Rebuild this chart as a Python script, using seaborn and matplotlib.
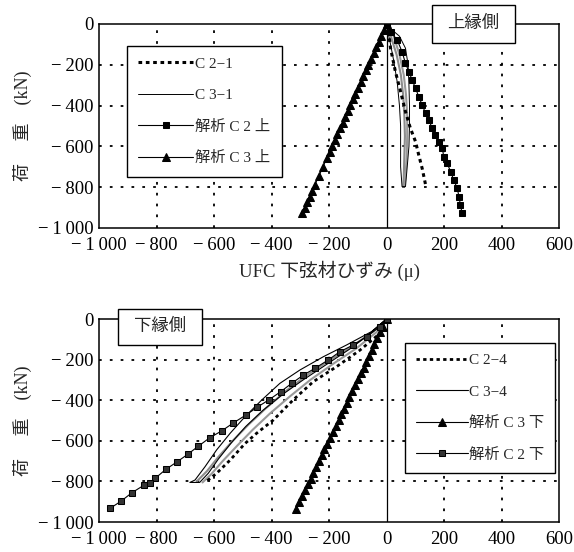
import matplotlib
matplotlib.use("Agg")
import matplotlib.pyplot as plt
import seaborn as sns
import pandas as pd
from matplotlib.patches import Rectangle

# ---------------- data (strain in μ, load in kN) ----------------
# Top panel (上縁側)
top_c21_x = [0, 8, 14, 31, 49, 66, 83, 101, 112, 124, 136]
top_c21_y = [0, -50, -119, -234, -332, -430, -511, -577, -642, -708, -789]

top_c31_x = [0, 20, 45, 66, 75, 78, 80, 80, 78, 72, 66, 54, 49, 49, 49, 45, 37, 25, 14, 5, 0]
top_c31_y = [0, -30, -60, -119, -200, -300, -400, -500, -600, -700, -797, -797, -700, -600, -500, -400, -283, -180, -100, -40, 0]

top_c31_cyc1_x = [0, 15, 35, 50, 58, 62, 64, 62, 60, 58]
top_c31_cyc1_y = [0, -60, -150, -250, -350, -450, -550, -650, -750, -797]
top_c31_cyc2_x = [0, 25, 45, 60, 68, 72, 72, 70, 66, 62]
top_c31_cyc2_y = [0, -60, -150, -250, -350, -450, -550, -650, -750, -797]

top_ana_c2_x = [0, 14, 37, 54, 66, 78, 89, 101, 112, 124, 136, 147, 159, 170, 182, 194, 199, 211, 223, 234, 246, 252, 257, 263]
top_ana_c2_y = [0, -38, -78, -136, -193, -234, -275, -315, -356, -397, -438, -471, -511, -544, -577, -609, -650, -683, -724, -765, -806, -846, -887, -928]

top_ana_c3_x = [0, -9, -18, -27, -36, -45, -54, -63, -72, -81, -90, -99, -108, -117, -126, -135,
                -144, -153, -162, -171, -180, -189, -198, -207, -221, -235, -250, -258, -267, -276, -285, -293]
top_ana_c3_y = [0, -30, -58, -86, -115, -143, -172, -200, -228, -257, -285, -314, -342, -370, -399, -427,
                -456, -484, -512, -541, -569, -598, -626, -655, -700, -745, -790, -818, -846, -874, -902, -928]

# Bottom panel (下縁側)
bot_c24_x = [0, -23, -92, -174, -255, -325, -394, -452, -492, -544, -591, -631]
bot_c24_y = [0, -71, -153, -235, -309, -399, -498, -563, -613, -695, -760, -805]

bot_c34_x = [0, -52, -139, -220, -301, -371, -434, -492, -544, -591, -631, -666, -684,
             -650, -620, -585, -540, -490, -430, -360, -290, -210, -130, -60, 0]
bot_c34_y = [0, -62, -128, -186, -251, -317, -399, -481, -563, -645, -727, -793, -805,
             -805, -760, -690, -610, -530, -450, -370, -300, -225, -150, -75, 0]

bot_c34_cyc1_x = [0, -45, -120, -200, -280, -350, -420, -480, -535, -585, -625, -660]
bot_c34_cyc1_y = [0, -60, -135, -205, -280, -355, -440, -520, -600, -680, -750, -800]
bot_c34_cyc2_x = [0, -35, -105, -185, -265, -335, -405, -465, -520, -570, -610, -640]
bot_c34_cyc2_y = [0, -65, -145, -220, -300, -380, -465, -545, -625, -700, -765, -805]

bot_ana_c3_x = [0, -13, -22, -32, -42, -51, -61, -71, -80, -90, -100, -110, -119, -129, -138, -148, -158,
                -167, -177, -187, -197, -206, -216, -225, -235, -245, -255, -264, -274, -284, -293, -303, -315]
bot_ana_c3_y = [0, -38, -66, -95, -124, -153, -182, -210, -239, -268, -297, -326, -354, -383, -412, -441, -470,
                -498, -527, -556, -585, -614, -642, -671, -700, -729, -758, -786, -815, -844, -873, -902, -938]

bot_ana_c2_x = [0, -23, -69, -116, -162, -203, -249, -289, -330, -368, -408, -449, -489, -533, -573,
                -614, -655, -692, -728, -767, -805, -823, -843, -886, -923, -962]
bot_ana_c2_y = [0, -38, -87, -128, -161, -202, -243, -276, -317, -358, -397, -434, -473, -512, -551,
                -584, -627, -667, -703, -740, -785, -806, -818, -856, -897, -933]

x_ticks = [-1000, -800, -600, -400, -200, 0, 200, 400, 600]
x_tick_labels = ["\u2212\u20091\u2009000", "\u2212\u2009800", "\u2212\u2009600", "\u2212\u2009400",
                 "\u2212\u2009200", "0", "200", "400", "600"]
y_ticks = [0, -200, -400, -600, -800, -1000]
y_tick_labels = ["0", "\u2212\u2009200", "\u2212\u2009400", "\u2212\u2009600", "\u2212\u2009800",
                 "\u2212\u20091\u2009000"]

top_legend_labels = ["C 2\u22121", "C 3\u22121", "解析 C 2 上", "解析 C 3 上"]
bot_legend_labels = ["C 2\u22124", "C 3\u22124", "解析 C 3 下", "解析 C 2 下"]
top_title = "上縁側"
bot_title = "下縁側"
x_label = "UFC 下弦材ひずみ (μ)"
y_label = "荷\u3000 重\u3000(kN)"

# ---------------- style ----------------
sns.set_theme(style="white")
plt.rcParams["font.family"] = ["Liberation Serif", "Noto Sans CJK JP", "DejaVu Sans"]
plt.rcParams["axes.unicode_minus"] = True

fig = plt.figure(figsize=(5.74, 5.52), dpi=100)
ax1 = fig.add_axes([0.1725, 0.587, 0.8014, 0.3696])
ax2 = fig.add_axes([0.1725, 0.0543, 0.8014, 0.3678])

DOT = (0, (1.2, 1.2))
GRID = (0, (1.5, 4.5))


def series(ax, xs, ys, **kw):
    df = pd.DataFrame({"x": xs, "y": ys})
    sns.lineplot(data=df, x="x", y="y", sort=False, estimator=None, ax=ax, **kw)
    return ax.lines[-1]


def style_axes(ax):
    ax.set_xlim(-1000, 600)
    ax.set_ylim(-1000, 0)
    ax.set_xticks(x_ticks)
    ax.set_xticklabels(x_tick_labels)
    ax.set_yticks(y_ticks)
    ax.set_yticklabels(y_tick_labels)
    ax.tick_params(axis="both", labelsize=13.5, length=0, colors="black")
    ax.tick_params(axis="x", pad=6.5)
    ax.tick_params(axis="y", pad=4)
    for s in ax.spines.values():
        s.set_color("black")
        s.set_linewidth(1.1)
    for v in [-800, -600, -400, -200, 200, 400]:
        ax.axvline(v, color="black", lw=1.3, ls=GRID, zorder=0.5)
    for v in [-200, -400, -600, -800]:
        ax.axhline(v, color="black", lw=1.3, ls=GRID, zorder=0.5)
    ax.axvline(0, color="black", lw=0.9, zorder=0.6)
    ax.set_ylabel(y_label, fontsize=13, labelpad=4)


# ---- top panel ----
style_axes(ax1)
series(ax1, top_c31_cyc1_x, top_c31_cyc1_y, color="0.55", lw=1.5)
series(ax1, top_c31_cyc2_x, top_c31_cyc2_y, color="0.6", lw=1.5)
h_c31 = series(ax1, top_c31_x, top_c31_y, color="black", lw=0.7)
h_c21 = series(ax1, top_c21_x, top_c21_y, color="black", lw=2.2, ls=DOT)
h_a2 = series(ax1, top_ana_c2_x, top_ana_c2_y, color="black", lw=0.8,
              marker="s", markersize=4.8, markeredgecolor="black", markerfacecolor="black")
h_a3 = series(ax1, top_ana_c3_x, top_ana_c3_y, color="black", lw=0.8,
              marker="^", markersize=5.8, markeredgecolor="black", markerfacecolor="black")
leg1 = ax1.legend([h_c21, h_c31, h_a2, h_a3], top_legend_labels,
                  loc="upper left", bbox_to_anchor=(0.06, 0.894), fontsize=11,
                  handlelength=3.6, handletextpad=0.15, labelspacing=1.15,
                  borderpad=0.75, borderaxespad=0, fancybox=False, framealpha=1,
                  edgecolor="black")
leg1.get_frame().set_linewidth(1.0)
ax1.set_xlabel(x_label, fontsize=13.5, labelpad=5)
ax1.add_patch(Rectangle((0.723, 0.907), 0.181, 0.186, transform=ax1.transAxes,
                        facecolor="white", edgecolor="black", lw=1.0, clip_on=False, zorder=5))
ax1.text(0.8135, 1.0, top_title, transform=ax1.transAxes, ha="center", va="center",
         fontsize=12.5, zorder=6, clip_on=False)

# ---- bottom panel ----
style_axes(ax2)
series(ax2, bot_c34_cyc1_x, bot_c34_cyc1_y, color="0.55", lw=1.5)
series(ax2, bot_c34_cyc2_x, bot_c34_cyc2_y, color="0.6", lw=1.5)
h_c34 = series(ax2, bot_c34_x, bot_c34_y, color="black", lw=0.8)
h_c24 = series(ax2, bot_c24_x, bot_c24_y, color="black", lw=2.0, ls=DOT)
h_b3 = series(ax2, bot_ana_c3_x, bot_ana_c3_y, color="black", lw=0.8,
              marker="^", markersize=5.8, markeredgecolor="black", markerfacecolor="black")
h_b2 = series(ax2, bot_ana_c2_x, bot_ana_c2_y, color="black", lw=0.8,
              marker="s", markersize=4.8, markeredgecolor="black", markerfacecolor="0.2")
leg2 = ax2.legend([h_c24, h_c34, h_b3, h_b2], bot_legend_labels,
                  loc="upper left", bbox_to_anchor=(0.665, 0.882), fontsize=11,
                  handlelength=3.4, handletextpad=0.1, labelspacing=1.15,
                  borderpad=0.7, borderaxespad=0, fancybox=False, framealpha=1,
                  edgecolor="black")
leg2.get_frame().set_linewidth(1.0)
ax2.set_xlabel("")
ax2.add_patch(Rectangle((0.041, 0.872), 0.182, 0.177, transform=ax2.transAxes,
                        facecolor="white", edgecolor="black", lw=1.0, clip_on=False, zorder=5))
ax2.text(0.132, 0.9605, bot_title, transform=ax2.transAxes, ha="center", va="center",
         fontsize=12.5, zorder=6, clip_on=False)

fig.savefig("out.png", dpi=100)
